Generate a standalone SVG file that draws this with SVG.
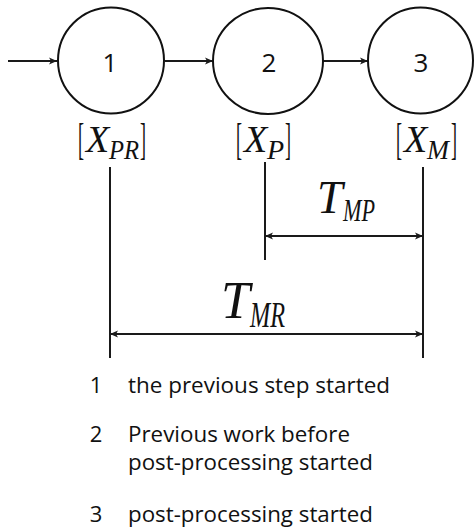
<svg xmlns="http://www.w3.org/2000/svg" width="474" height="530" viewBox="0 0 474 530">
<style>
.node{fill:#fff;stroke:#111;stroke-width:2}
.num{font-family:"Open Sans","Liberation Sans",sans-serif;font-size:26px;fill:#111;text-anchor:middle}
.ln{stroke:#1a1a1a;stroke-width:2;fill:none}
.m{font-family:"Liberation Serif","DejaVu Serif",serif;font-style:italic;fill:#111}
.br{font-style:normal;font-size:44px}
.lst{font-family:"Open Sans","Liberation Sans",sans-serif;font-size:22px;fill:#111}
</style>
<defs>
<marker id="ah" markerUnits="userSpaceOnUse" markerWidth="10" markerHeight="10" refX="8" refY="4" orient="auto-start-reverse" viewBox="0 0 10 8">
<path d="M0,0.5 L8,4 L0,7.5 L2,4 z" fill="#1a1a1a"/>
</marker>
</defs>
<g id="connectors">
<line class="ln" x1="8" y1="61" x2="57" y2="61" marker-end="url(#ah)"/>
<line class="ln" x1="165" y1="61" x2="213" y2="61" marker-end="url(#ah)"/>
<line class="ln" x1="322" y1="61" x2="368" y2="61" marker-end="url(#ah)"/>
<line class="ln" x1="110" y1="167" x2="110" y2="358"/>
<line class="ln" x1="265" y1="162" x2="265" y2="260"/>
<line class="ln" x1="423" y1="167" x2="423" y2="358"/>
<line class="ln" x1="265" y1="236" x2="423" y2="236" marker-start="url(#ah)" marker-end="url(#ah)"/>
<line class="ln" x1="110" y1="334" x2="423" y2="334" marker-start="url(#ah)" marker-end="url(#ah)"/>
</g>
<g id="node1">
<ellipse class="node" cx="111" cy="60.5" rx="53" ry="53"/>
<text class="num" x="110" y="72">1</text>
</g>
<g id="node2">
<ellipse class="node" cx="268" cy="61" rx="55" ry="53"/>
<text class="num" x="269" y="72">2</text>
</g>
<g id="node3">
<ellipse class="node" cx="420.5" cy="60.5" rx="52.5" ry="53"/>
<text class="num" x="421" y="72">3</text>
</g>
<g id="label-xpr">
<text class="m"><tspan class="br" x="78" y="154" textLength="6" lengthAdjust="spacingAndGlyphs">[</tspan><tspan x="86" y="152" font-size="38">X</tspan><tspan x="109" y="159" font-size="28" textLength="30" lengthAdjust="spacingAndGlyphs">PR</tspan><tspan class="br" x="140" y="154" textLength="6" lengthAdjust="spacingAndGlyphs">]</tspan></text>
</g>
<g id="label-xp">
<text class="m"><tspan class="br" x="236" y="154" textLength="6" lengthAdjust="spacingAndGlyphs">[</tspan><tspan x="244" y="152" font-size="38">X</tspan><tspan x="267" y="159" font-size="28">P</tspan><tspan class="br" x="285" y="154" textLength="6" lengthAdjust="spacingAndGlyphs">]</tspan></text>
</g>
<g id="label-xm">
<text class="m"><tspan class="br" x="396" y="154" textLength="6" lengthAdjust="spacingAndGlyphs">[</tspan><tspan x="404" y="152" font-size="38">X</tspan><tspan x="427" y="159" font-size="28" textLength="22" lengthAdjust="spacingAndGlyphs">M</tspan><tspan class="br" x="451" y="154" textLength="6" lengthAdjust="spacingAndGlyphs">]</tspan></text>
</g>
<g id="label-tmp">
<text class="m"><tspan x="317" y="213" font-size="46">T</tspan><tspan x="343" y="221" font-size="32" textLength="32" lengthAdjust="spacingAndGlyphs">MP</tspan></text>
</g>
<g id="label-tmr">
<text class="m"><tspan x="221" y="318" font-size="52">T</tspan><tspan x="250" y="327" font-size="36" textLength="35" lengthAdjust="spacingAndGlyphs">MR</tspan></text>
</g>
<g id="legend">
<text class="lst" x="96" y="393" text-anchor="middle">1</text>
<text class="lst" x="128" y="393" textLength="262" lengthAdjust="spacingAndGlyphs">the previous step started</text>
<text class="lst" x="96" y="442" text-anchor="middle">2</text>
<text class="lst" x="128" y="442" textLength="222" lengthAdjust="spacingAndGlyphs">Previous work before</text>
<text class="lst" x="128" y="470" textLength="245" lengthAdjust="spacingAndGlyphs">post-processing started</text>
<text class="lst" x="96" y="522" text-anchor="middle">3</text>
<text class="lst" x="128" y="522" textLength="245" lengthAdjust="spacingAndGlyphs">post-processing started</text>
</g>
</svg>
